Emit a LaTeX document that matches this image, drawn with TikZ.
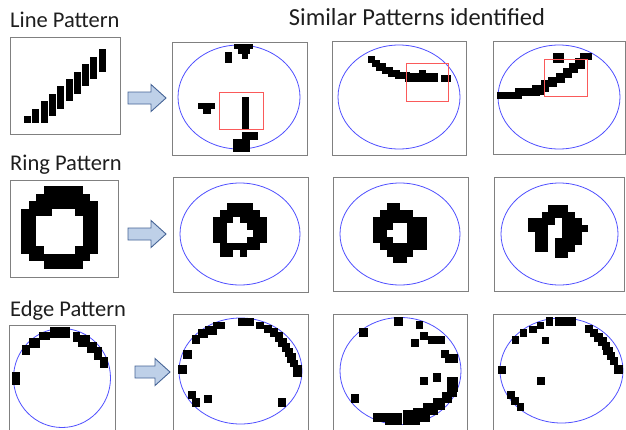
\documentclass[tikz,border=0pt]{standalone}
\usepackage{fontspec}
\setmainfont{Carlito}
\definecolor{framec}{RGB}{128,128,128}
\definecolor{ovalc}{RGB}{80,80,255}
\definecolor{roic}{RGB}{250,90,90}
\definecolor{arrfill}{RGB}{190,208,232}
\definecolor{arredge}{RGB}{70,100,150}
\definecolor{textc}{RGB}{30,30,30}
\newcommand\pixblocks[1]{\foreach \xa/\ya/\xb/\yb in {#1} {\fill (\xa,\ya) rectangle (\xb,\yb);}}
\newcommand\pixrows[4]{\foreach \r/\a/\b in {#4} {\fill ({#1+\a*#3},{#2+\r*#3}) rectangle ({#1+(\b+1)*#3},{#2+(\r+1)*#3});}}
\newcommand\pixrowsxy[5]{\foreach \r/\a/\b in {#5} {\fill ({#1+\a*#3},{#2+\r*#4}) rectangle ({#1+(\b+1)*#3},{#2+(\r+1)*#4});}}
\newcommand\blockarr[3]{\draw[barrow] ({#1},{#3-6}) -- ({#2-15},{#3-6}) -- ({#2-15},{#3-13.5}) -- ({#2},{#3}) -- ({#2-15},{#3+13.5}) -- ({#2-15},{#3+6}) -- ({#1},{#3+6}) -- cycle;}
\begin{document}
\begin{tikzpicture}[x=1pt,y=-1pt,
  frame/.style={draw=framec,line width=0.9pt},
  oval/.style={draw=ovalc,line width=0.8pt},
  roi/.style={draw=roic,line width=0.8pt},
  lbl/.style={anchor=base west,font=\fontsize{22.5}{26}\selectfont,text=textc,inner sep=0pt},
  barrow/.style={fill=arrfill,draw=arredge,line width=0.9pt,line join=miter}]
\useasboundingbox (0,0) rectangle (626,429);
\clip (0,0) rectangle (626,429);
\fill[white] (0,0) rectangle (626,429);

% ---------- titles ----------
\node[lbl] (t1) at (10,27) {Line Pattern};
\node[lbl,anchor=base,font=\fontsize{24.5}{28}\selectfont] (tt) at (417,25) {Similar Patterns identified};
\node[lbl] (t2) at (10,170) {Ring Pattern};
\node[lbl] (t3) at (10,316) {Edge Pattern};

% ---------- arrows ----------
\blockarr{128}{166}{98}
\blockarr{128}{166}{234}
\blockarr{135}{170}{372}

% ================= ROW 1 : line =================
\draw[frame] (10,37) rectangle (120,134);
\foreach \i/\n in {0/1,1/2,2/3,3/3,4/3,5/3,6/3,7/3,8/3,9/3}{
  \fill ({24+8.3*\i},{116-7.4*\i}) rectangle ++(7.0,{7.4*\n});
}

% box 2
\draw[frame] (172,42) rectangle (307,155);
\draw[oval] (239,97) ellipse [x radius=61,y radius=52];
\pixblocks{234/44/253/49, 238/49/250/54, 242/54/248/59, 225/52/232/63,
  198/103/215/109, 203/109/211/114, 242/97/249/130,
  242/132/258/140, 233/139/250/152}
\draw[roi] (219,92) rectangle (263,129);

% box 3
\draw[frame] (332,41) rectangle (466,155);
\draw[oval] (399,97) ellipse [x radius=61,y radius=52];
\pixblocks{368/56/375/63, 372/60/380/67, 376/63/386/71, 382/67/393/74,
  388/70/400/77, 395/72/410/79, 405/74/420/82, 410/73/438/82,
  419/70/426/75, 441/75/451/82}
\draw[roi] (406,63) rectangle (448,101);

% box 4
\draw[frame] (493,41) rectangle (625,154);
\draw[oval] (559,97) ellipse [x radius=61,y radius=52];
\pixblocks{497/92/522/99, 515/88/540/96, 532/85/545/95, 541/80/549/92,
  548/77/557/87, 556/73/565/83, 563/68/572/78, 569/63/578/73,
  575/58/585/69, 580/53/592/60, 553/53/564/63}
\draw[roi] (544,59) rectangle (587,96);

% ================= ROW 2 : ring =================
\draw[frame] (10,180) rectangle (118,277);
\pixrowsxy{21}{186}{7.7}{7.5}{0/3/7, 1/2/8, 2/1/9, 3/0/3, 3/7/9,
  4/0/1, 4/8/9, 5/0/1, 5/8/9, 6/0/1, 6/8/9, 7/0/1, 7/8/9,
  8/0/2, 8/7/9, 9/1/8, 10/3/7}

\draw[frame] (173,177) rectangle (308,292);
\draw[oval] (240,234) ellipse [x radius=60,y radius=51];
\pixrows{213.3}{203.3}{6.67}{0/2/5, 1/1/6, 2/0/2, 2/4/7, 3/0/1, 3/5/7,
  4/0/1, 4/6/7, 5/0/1, 5/5/7, 6/1/6, 7/1/2, 7/4/4}

\draw[frame] (333,177) rectangle (468,291);
\draw[oval] (400,234) ellipse [x radius=60,y radius=51];
\pixrows{373.3}{203.3}{6.67}{0/2/3, 1/1/5, 2/0/7, 3/0/2, 3/5/7,
  4/0/1, 4/5/7, 5/0/2, 5/5/7, 6/1/7, 7/2/5, 8/3/4}

\draw[frame] (494,177) rectangle (624,291);
\draw[oval] (559.5,234) ellipse [x radius=58.5,y radius=51];
\pixrows{528.3}{205}{6.67}{0/3/5, 1/2/6, 2/0/3, 2/5/7, 3/0/2, 3/5/8,
  4/1/2, 4/5/7, 5/1/2, 5/4/7, 6/1/2, 6/4/6, 7/4/5}

% ================= ROW 3 : edge =================
\draw[frame] (9,325) rectangle (115,440);
\draw[oval] (62,378) ellipse [x radius=48.5,y radius=49.5];
\pixblocks{22/345/30/355, 29/338/40/348, 39/332/50/340, 50/327/70/338,
  73/332/80/342, 78/335/90/347, 87/342/97/353, 94/347/102/360,
  100/357/108/368, 12/372/20/385}

\draw[frame] (173,314) rectangle (308,440);
\draw[oval] (240.5,371) ellipse [x radius=61.5,y radius=53];
\pixblocks{238/318/254/326, 256/322/264/329, 213/322/225/329, 205/326/217/335,
  198/329/208/338, 192/335/200/344, 183/350/192/359, 178/365/187/374,
  188/391/196/399, 192/398/200/407, 204/395/212/403, 278/398/286/407,
  264/325/272/333, 270/328/278/337, 275/332/283/342, 278/338/287/347,
  282/343/290/352, 285/348/293/357, 287/353/296/363, 290/360/298/367,
  293/365/302/377}

\draw[frame] (333,314) rectangle (467,440);
\draw[oval] (400.5,371) ellipse [x radius=60.5,y radius=53.5];
\pixblocks{394/317/403/326, 359/328/368/337, 416/321/423/329, 420/332/428/340,
  411/339/419/347, 428/336/437/344, 437/336/445/344, 441/350/449/358,
  445/354/458/363, 433/373/441/382, 420/377/428/385, 447/377/458/392,
  351/394/359/403, 447/385/457/397, 442/392/452/403, 433/398/445/410,
  423/403/438/415, 413/408/430/422, 403/410/420/425, 385/413/402/425,
  373/413/387/422}

\draw[frame] (493,314) rectangle (627,440);
\draw[oval] (561.5,370.5) ellipse [x radius=61.5,y radius=52.5];
\pixblocks{546/317/553/326, 555/317/562/326, 562/317/569/326, 569/317/576/326,
  537/322/544/329, 529/326/537/333, 520/329/527/337, 512/336/519/344,
  542/337/549/344, 585/325/593/333, 590/329/598/337, 594/333/603/342,
  598/337/607/346, 602/342/610/350, 603/347/613/355, 607/352/615/360,
  610/357/618/365, 614/365/623/374, 498/366/506/374, 537/377/545/385,
  507/391/515/399, 511/397/519/405, 517/403/524/411}
\end{tikzpicture}
\end{document}
